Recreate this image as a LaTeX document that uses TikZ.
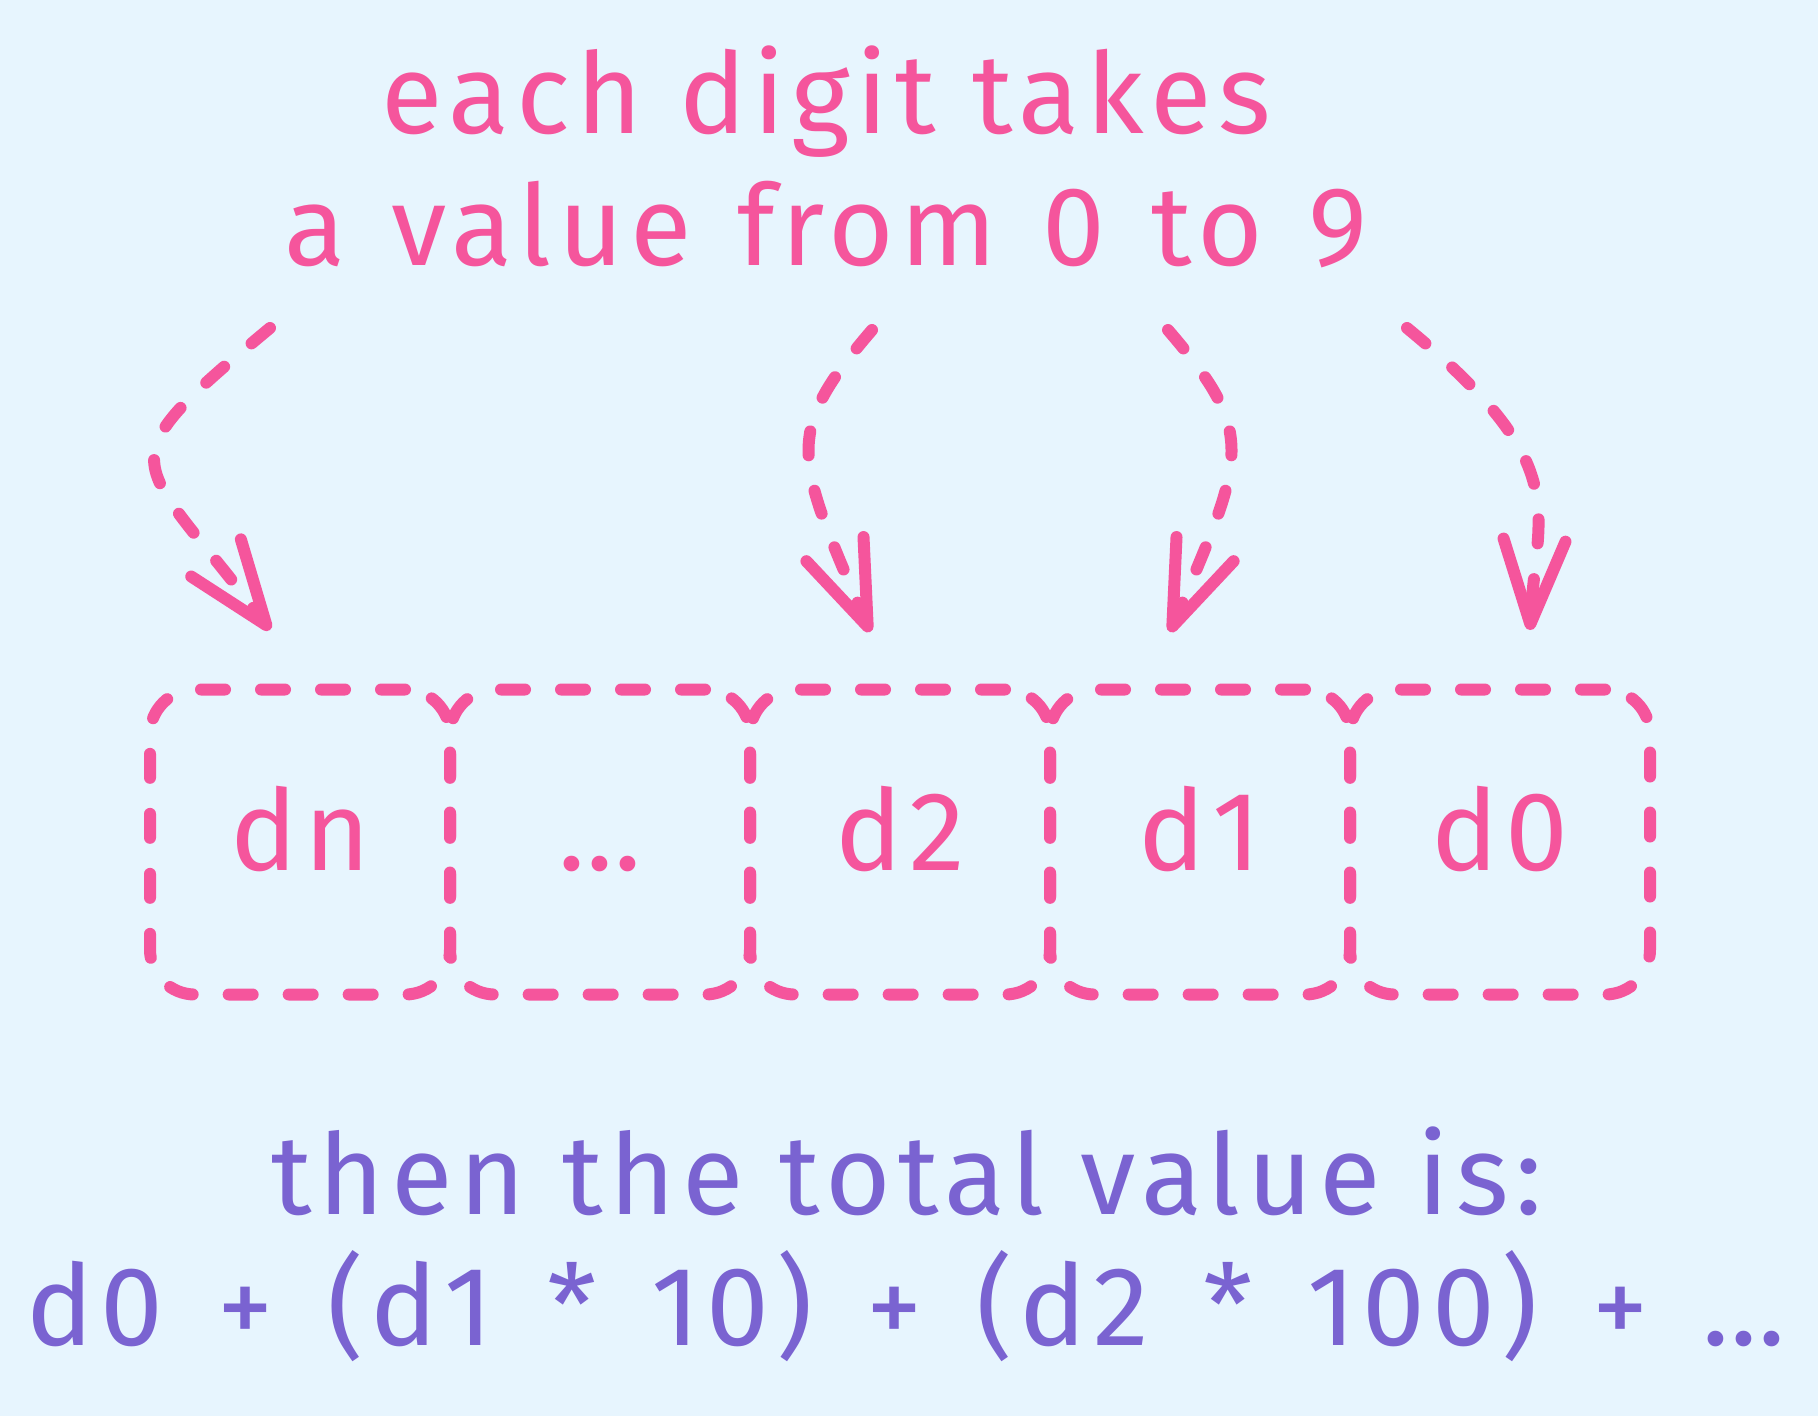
\documentclass[tikz,border=0pt]{standalone}
\usepackage{fontspec}
\setmainfont{Fira Sans}[LetterSpace=6]
\usetikzlibrary{arrows.meta, positioning}
\definecolor{bgblue}{HTML}{E7F5FE}
\definecolor{digitpink}{HTML}{F5559C}
\definecolor{sumviolet}{HTML}{7A63D1}
\newcommand\handfont{\fontsize{32}{38}\selectfont}

\begin{document}
\begin{tikzpicture}[
    x=0.1mm, y=-0.1mm,
    >={Straight Barb[length=8.4mm, width=6.2mm, round]},
    dashline/.style={line width=1.2mm, line cap=round, line join=round,
                     dash pattern=on 2.4mm off 3.6mm},
    cell/.style={draw=digitpink, dashline, rounded corners=4.5mm,
                 minimum width=30mm, minimum height=30.5mm, outer sep=0pt, inner sep=0pt,
                 text=digitpink, font=\handfont, text height=16pt, text depth=0pt},
    pointer/.style={draw=digitpink, dashline, ->},
    note/.style={text=digitpink, font=\handfont, anchor=base, inner sep=0pt},
    sumtext/.style={text=sumviolet, font=\handfont, anchor=base, inner sep=0pt},
]

% Background
\fill[bgblue] (0,0) rectangle (1818,1416);
\useasboundingbox (0,0) rectangle (1818,1416);

% Heading
\node[note] (headtop) at (826,133) {each digit takes};
\node[note] (headbot) at (826,265) {\spaceskip=13pt\relax a value from 0 to 9};

% Digit cells
\node[cell] (dn) at (300,842) {dn};
\node[cell, right=0pt of dn] (dmid) {\ldots};
\node[cell, right=0pt of dmid] (dtwo) {d2};
\node[cell, right=0pt of dtwo] (done) {d1};
\node[cell, right=0pt of done] (dzero) {d0};

% Pointer ends
\coordinate (p1s) at (270,328);
\coordinate (p1t) at (270,630);
\coordinate (p2s) at (872,330);
\coordinate (p2t) at (870,632);
\coordinate (p3s) at (1168,330);
\coordinate (p3t) at (1170,632);
\coordinate (p4s) at (1407,328);
\coordinate (p4t) at (1530,630);

% Pointers
\draw[pointer] (p1s) .. controls (98,471) and (136,451) .. (p1t);
\draw[pointer] (p2s) .. controls (781,436) and (796,457) .. (p2t);
\draw[pointer] (p3s) .. controls (1259,436) and (1244,457) .. (p3t);
\draw[pointer] (p4s) .. controls (1576,467) and (1536,510) .. (p4t);

% Total
\node[sumtext] (sumhead) at (907,1214) {then the total value is:};
\node[sumtext] (sumformula) at (906,1345) {\spaceskip=15.4pt\relax d0 + (d1 * 10) + (d2 * 100) + \ldots};

\end{tikzpicture}
\end{document}
